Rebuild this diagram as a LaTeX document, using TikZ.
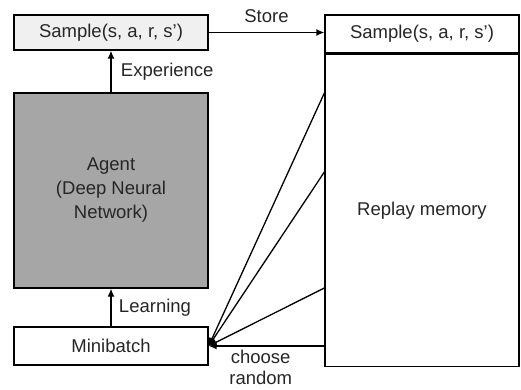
\documentclass[tikz,border=0pt]{standalone}
\usepackage{fontspec}
\setmainfont{Liberation Sans}
\usetikzlibrary{positioning,arrows.meta}

\begin{document}
\begin{tikzpicture}[x=1pt, y=-1pt, line width=1.3pt, >={Latex[length=8pt,width=7pt]},
		every node/.style={font=\fontsize{18.5}{24}\selectfont, text=black!85},
		box/.style={draw, minimum width=194pt, inner sep=0pt, align=center}]
			\useasboundingbox (0,0) rectangle (521,390);
			\node [box, fill=black!6, minimum height=35pt] (samp) at (111,32.5) {Sample(s, a, r, s')};
			\node [box, fill=black!35, minimum height=195pt] (agent) at (111,190.5) {Agent \\ (Deep Neural \\ Network)};
			\node [box, minimum height=38pt] (mini) at (111,346) {Minibatch};
			\node [box, minimum height=38pt] (memtop) at (422,34) {Sample(s, a, r, s')};
			\node [box, minimum height=312pt, below=0pt of memtop] (mem) {Replay memory};
			% points on the left side of the memory
			\coordinate (m1) at (mem.west |- 0,93);
			\coordinate (m2) at (mem.west |- 0,172);
			\coordinate (m3) at (mem.west |- 0,288);
			\coordinate (m4) at (mem.west |- mini.east);
			\draw [->] (agent.north) to node[right, xshift=6pt]{Experience} (samp.south);
			\draw [->] (mini.north) to node[right, xshift=4pt]{Learning} (agent.south);
			\draw [->] (samp.east) to node[above, yshift=6pt]{Store} (samp.east -| memtop.west);
			\draw [->] (m1) to (mini.east);
			\draw [->] (m2) to (mini.east);
			\draw [->] (m3) to (mini.east);
			\draw [->] (m4) to node[below, align=center, pos=0.55, font=\fontsize{18.5}{21}\selectfont]{choose \\ random} (mini.east);
		\end{tikzpicture}
\end{document}
